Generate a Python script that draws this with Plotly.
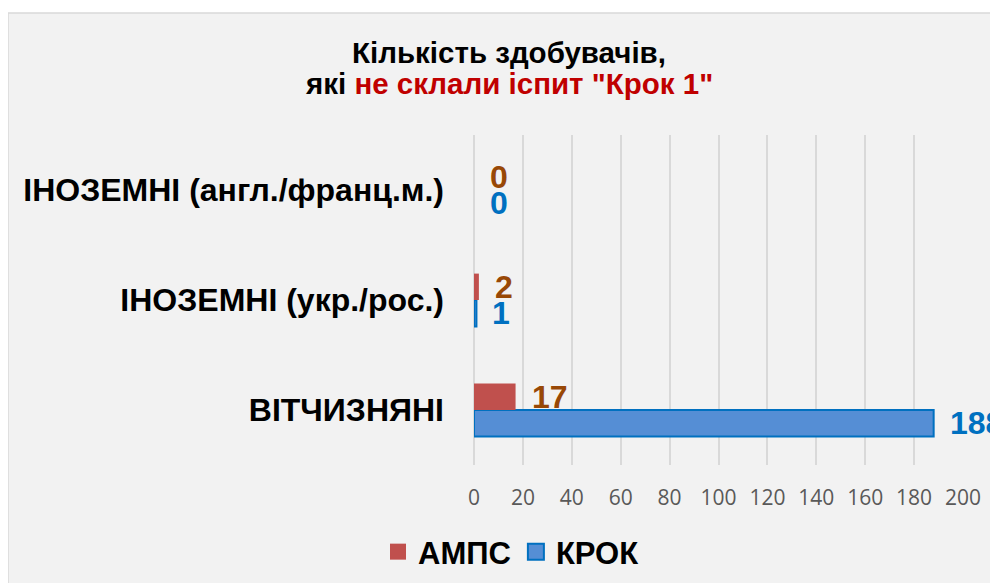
import plotly.graph_objects as go

categories = ["ВІТЧИЗНЯНІ", "ІНОЗЕМНІ (укр./рос.)", "ІНОЗЕМНІ (англ./франц.м.)"]
series_names = ["АМПС", "КРОК"]
ampc_values = [17, 2, 0]
krok_values = [188, 1, 0]
x_ticks = [0, 20, 40, 60, 80, 100, 120, 140, 160, 180, 200]

RED = "#c0504d"
BLUE_FILL = "#558ed5"
BLUE_LINE = "#0070c0"
BROWN = "#984806"
FONT = "Liberation Sans, Arial, sans-serif"

fig = go.Figure()

# КРОК first so it sits below within each group; no outline on empty bars
fig.add_trace(go.Bar(
    name=series_names[1], y=categories, x=krok_values, orientation="h",
    marker=dict(color=BLUE_FILL,
                line=dict(color=BLUE_LINE, width=[2 if v > 0 else 0 for v in krok_values])),
    showlegend=False, hoverinfo="x+name",
))
fig.add_trace(go.Bar(
    name=series_names[0], y=categories, x=ampc_values, orientation="h",
    marker=dict(color=RED, line=dict(width=0)),
    showlegend=False, hoverinfo="x+name",
))

# legend entries
fig.add_trace(go.Scatter(
    name=series_names[0], x=[None], y=[None], mode="markers",
    marker=dict(symbol="square", size=17, color=RED, line=dict(width=0)),
))
fig.add_trace(go.Scatter(
    name=series_names[1], x=[None], y=[None], mode="markers",
    marker=dict(symbol="square", size=16, color=BLUE_FILL, line=dict(color=BLUE_LINE, width=2)),
))

BARGAP = 0.52
half = (1 - BARGAP) / 4
annotations = []
for i, (a, k) in enumerate(zip(ampc_values, krok_values)):
    annotations.append(dict(
        x=a, y=i + half, xref="x", yref="y", text=str(a), showarrow=False,
        xanchor="left", yanchor="middle", xshift=14,
        font=dict(family=FONT, size=32, color=BROWN, weight="bold"),
    ))
    annotations.append(dict(
        x=k, y=i - half, xref="x", yref="y", text=str(k), showarrow=False,
        xanchor="left", yanchor="middle", xshift=14,
        font=dict(family=FONT, size=32, color=BLUE_LINE, weight="bold"),
    ))

OFF = 8  # default body margin of the page
W, H = 998 - OFF, 583 - OFF
L, R, T, B = 474 - OFF, 963 - OFF, 135 - OFF, 465 - OFF
pw, ph = R - L, B - T


def px_x(p):
    return (p - OFF - L) / pw


def px_y(p):
    return (B - (p - OFF)) / ph


annotations.append(dict(
    x=px_x(509), y=px_y(53), xref="paper", yref="paper", showarrow=False,
    text="Кількість здобувачів,", xanchor="center", yanchor="middle",
    font=dict(family=FONT, size=29.5, color="#000000", weight="bold"),
))
annotations.append(dict(
    x=px_x(509), y=px_y(83), xref="paper", yref="paper", showarrow=False,
    text="які <span style='color:#c00000'>не склали іспит \"Крок 1\"</span>",
    xanchor="center", yanchor="middle",
    font=dict(family=FONT, size=29.5, color="#000000", weight="bold"),
))

fig.update_layout(
    width=W, height=H,
    margin=dict(l=L, r=W - R, t=T, b=H - B, pad=0, autoexpand=False),
    paper_bgcolor="#ffffff",
    plot_bgcolor="rgba(0,0,0,0)",
    barmode="group", bargap=BARGAP, bargroupgap=0,
    annotations=annotations,
    shapes=[dict(
        type="rect", xref="paper", yref="paper", layer="below",
        x0=px_x(8), x1=px_x(1010), y0=px_y(600), y1=px_y(13),
        fillcolor="#f2f2f2", line=dict(color="#d9d9d9", width=1.5),
    )],
    legend=dict(
        orientation="h", x=px_x(511), y=px_y(552), xanchor="center", yanchor="middle",
        font=dict(family=FONT, size=31, color="#000000", weight="bold"),
        bgcolor="rgba(0,0,0,0)", itemwidth=30,
    ),
    xaxis=dict(
        range=[0, 200], tickvals=x_ticks, ticktext=[str(v) for v in x_ticks],
        showgrid=True, gridcolor="#d9d9d9", gridwidth=1.5,
        zeroline=True, zerolinecolor="#d9d9d9", zerolinewidth=1.5,
        showline=False, ticks="", ticklabelstandoff=18, automargin=False,
        tickfont=dict(family="Open Sans, sans-serif", size=21, color="#595959"),
        fixedrange=True,
    ),
    yaxis=dict(
        categoryorder="array", categoryarray=categories,
        showgrid=False, zeroline=False, showline=False, ticks="",
        ticklabelstandoff=29, automargin=False,
        tickfont=dict(family=FONT, size=32, color="#000000", weight="bold"),
        fixedrange=True,
    ),
    showlegend=True,
)

fig.write_html("out.html")
